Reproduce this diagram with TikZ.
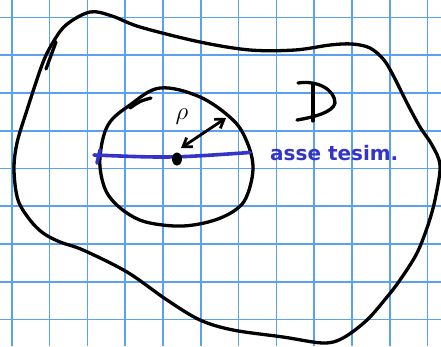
\documentclass[tikz,border=0pt]{standalone}
\usepackage{fontspec}
\newfontfamily\handfont{DejaVu Sans}
\usetikzlibrary{arrows.meta,shapes.geometric}
\definecolor{gridblue}{RGB}{90,162,240}
\definecolor{penblue}{RGB}{52,52,200}
\tikzset{
  gridline/.style={gridblue, line width=1.6pt},
  ink/.style={black, line width=3.3pt, line cap=round, line join=round},
  blueink/.style={penblue, line width=3.6pt, line cap=round},
}
\begin{document}
\begin{tikzpicture}[x=1pt,y=-1pt]
\useasboundingbox (0,0) rectangle (441,346);
\fill[white] (0,0) rectangle (441,346);
% grid
\foreach \i in {0,...,11} { \draw[gridline] ({11.7+37.8*\i},0) -- ({11.7+37.8*\i},346); }
\foreach \j in {0,...,8} { \draw[gridline] (0,{17.5+37.75*\j}) -- (441,{17.5+37.75*\j}); }
% outer domain D
\draw[ink] plot[smooth cycle, tension=0.55] coordinates {
 (90,12) (112,16) (140,27) (200,42) (250,50) (295,50) (330,45) (352,44) (370,48) (384,60) (394,77)
 (407,103) (420,127) (432,145) (440,165) (436,195) (429,222) (417,253) (400,280) (387,297) (367,320)
 (343,338) (323,343) (283,337) (233,330) (200,320) (167,300) (127,272) (83,250) (60,242) (43,233)
 (30,220) (18,200) (14,170) (17,143) (27,110) (42,65) (52,44) (66,25)};
\draw[ink] (56,42) -- (46,69);
% inner circle
\draw[ink] plot[smooth cycle, tension=0.6] coordinates {
 (160,88) (200,97) (233,120) (247,142) (253,167) (248,193) (238,208) (215,220) (183,226)
 (150,223) (130,215) (112,200) (103,183) (100,157) (108,125) (130,105)};
\draw[ink] (130,108) .. controls (140,101) .. (151,98);
% axis
\coordinate (axL) at (94,155);
\coordinate (axR) at (250,152.5);
\draw[blueink] (axL) .. controls (170,158) .. (axR);
\draw[blueink] (100,150) -- (97,163);
% centre point
\node[fill=black, ellipse, inner sep=0pt, minimum width=10pt, minimum height=13pt] (P) at (177,159) {};
\coordinate (Q) at (226,118);
\draw[ink, line width=2.8pt, {Straight Barb[length=8pt,width=11pt]}-{Straight Barb[length=8pt,width=11pt]}] (181,148) -- (Q);
% labels
\node (rho) at (182,117) {\fontsize{24}{24}\selectfont$\rho$};
\node[penblue, font=\handfont\bfseries\fontsize{20}{20}\selectfont, anchor=base west, inner sep=0pt] (asse) at (270,160) {asse tesim.};
% D letter
\coordinate (D1) at (298,83);
\draw[ink] (D1) .. controls (318,80) and (335,90) .. (335,103) .. controls (333,112) and (315,117) .. (297,120);
\draw[ink] (313,84) -- (313,121);
\end{tikzpicture}
\end{document}
